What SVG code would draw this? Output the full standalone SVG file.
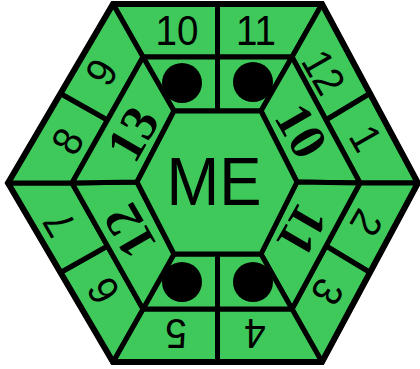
<svg xmlns="http://www.w3.org/2000/svg" width="420" height="369" viewBox="0 0 420 369">
  <style>
    .cell { fill: #3ec95a; stroke: #000; stroke-width: 5; stroke-linejoin: round; }
    .outer { fill: none; stroke: #000; stroke-width: 6; stroke-linejoin: miter; }
    .num { font-family: "Liberation Sans", Arial, sans-serif; font-size: 42px; fill: #000; text-anchor: middle; }
    .bold { font-family: "Liberation Serif", "Times New Roman", serif; font-weight: bold; font-size: 52px; fill: #000; text-anchor: middle; }
    .me { font-family: "Liberation Sans", Arial, sans-serif; font-size: 69px; fill: #000; text-anchor: middle; }
    .dot { fill: #000; }
  </style>
  <rect width="420" height="369" fill="#fff"/>

  <g id="outer-ring">
    <g id="cell-10"><polygon class="cell" points="113,4 217.5,4 217.5,57 143,57"/><text class="num" transform="translate(177,30) scale(0.92,1)" y="15">10</text></g>
    <g id="cell-11"><polygon class="cell" points="217.5,4 322,4 292,57 217.5,57"/><text class="num" transform="translate(256,30) scale(0.92,1)" y="15">11</text></g>
    <g id="cell-12"><polygon class="cell" points="322,4 370,93.5 326,120 292,57"/><text class="num" transform="translate(324,72) rotate(60) scale(0.92,1)" y="15">12</text></g>
    <g id="cell-1"><polygon class="cell" points="370,93.5 418,183 360,183 326,120"/><text class="num" transform="translate(366,138) rotate(60) scale(0.92,1)" y="15">1</text></g>
    <g id="cell-2"><polygon class="cell" points="418,183 370,272.5 326,246 360,183"/><text class="num" transform="translate(367,223) rotate(120) scale(0.92,1)" y="15">2</text></g>
    <g id="cell-3"><polygon class="cell" points="370,272.5 322,362 292,309 326,246"/><text class="num" transform="translate(328,292) rotate(120) scale(0.92,1)" y="15">3</text></g>
    <g id="cell-4"><polygon class="cell" points="322,362 217.5,362 217.5,309 292,309"/><text class="num" transform="translate(255,334) rotate(180) scale(0.92,1)" y="15">4</text></g>
    <g id="cell-5"><polygon class="cell" points="217.5,362 113,362 143,309 217.5,309"/><text class="num" transform="translate(176,334) rotate(180) scale(0.92,1)" y="15">5</text></g>
    <g id="cell-6"><polygon class="cell" points="113,362 60.5,272.5 107.5,246 143,309"/><text class="num" transform="translate(103,291) rotate(-120) scale(0.92,1)" y="15">6</text></g>
    <g id="cell-7"><polygon class="cell" points="60.5,272.5 8,183 72,183 107.5,246"/><text class="num" transform="translate(59,224) rotate(-120) scale(0.92,1)" y="15">7</text></g>
    <g id="cell-8"><polygon class="cell" points="8,183 60.5,93.5 107.5,120 72,183"/><text class="num" transform="translate(67,141) rotate(-60) scale(0.92,1)" y="15">8</text></g>
    <g id="cell-9"><polygon class="cell" points="60.5,93.5 113,4 143,57 107.5,120"/><text class="num" transform="translate(101,72) rotate(-60) scale(0.92,1)" y="15">9</text></g>
  </g>

  <g id="inner-ring">
    <g id="dot-top-left"><polygon class="cell" points="143,57 217.5,57 217.5,111 174,111"/><circle class="dot" cx="182" cy="83" r="20"/></g>
    <g id="dot-top-right"><polygon class="cell" points="217.5,57 292,57 261,111 217.5,111"/><circle class="dot" cx="253" cy="82" r="20"/></g>
    <g id="seg-10"><polygon class="cell" points="292,57 360,183 297,182 261,111"/><text class="bold" transform="translate(301,131) rotate(60)" y="17">10</text></g>
    <g id="seg-11"><polygon class="cell" points="360,183 292,309 261,254 297,182"/><text class="bold" transform="translate(302,230) rotate(120)" y="17">11</text></g>
    <g id="dot-bottom-right"><polygon class="cell" points="292,309 217.5,309 217.5,254 261,254"/><circle class="dot" cx="253" cy="282" r="20"/></g>
    <g id="dot-bottom-left"><polygon class="cell" points="217.5,309 143,309 174,254 217.5,254"/><circle class="dot" cx="182" cy="282" r="20"/></g>
    <g id="seg-12"><polygon class="cell" points="143,309 72,183 137,182 174,254"/><text class="bold" transform="translate(130,231) rotate(-120)" y="17">12</text></g>
    <g id="seg-13"><polygon class="cell" points="72,183 143,57 174,111 137,182"/><text class="bold" transform="translate(133,134) rotate(-60)" y="17">13</text></g>
  </g>

  <g id="center">
    <polygon class="cell" points="174,111 261,111 297,182 261,254 174,254 137,182"/>
    <text class="me" x="214" y="205" textLength="95" lengthAdjust="spacingAndGlyphs">ME</text>
  </g>

  <g id="connectors"/>

  <polygon class="outer" points="113,4 322,4 418,183 322,362 113,362 8,183"/>
</svg>
